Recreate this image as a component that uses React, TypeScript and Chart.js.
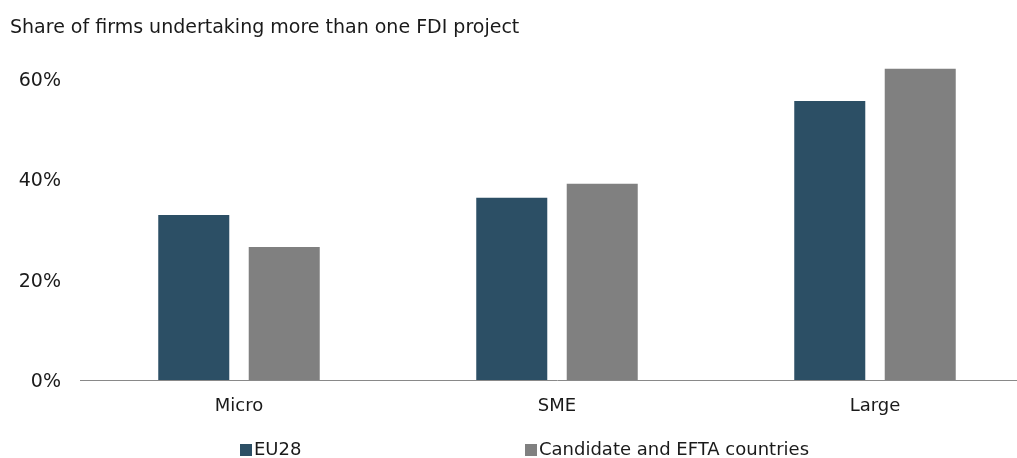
import React, { useEffect, useRef } from "react";
import { Chart, registerables } from "chart.js";

Chart.register(...registerables);

const categories = ["Micro", "SME", "Large"];
const seriesNames = ["EU28", "Candidate and EFTA countries"];
const eu28Values = [32.9, 36.3, 55.6];
const candidateValues = [26.5, 39.1, 62.0];
const yTickValues = [0, 20, 40, 60];
const titleText = "Share of firms undertaking more than one FDI project";

const FONT = "'DejaVu Sans', Verdana, sans-serif";
const TEXT = "#1a1a1a";
const COLORS = ["#2c4f65", "#808080"];
const LEGEND_X = [240, 525];

const legendPlugin = {
  id: "customLegend",
  afterDraw(chart: any) {
    const ctx = chart.ctx;
    ctx.save();
    ctx.font = `18px ${FONT}`;
    ctx.textBaseline = "middle";
    ctx.textAlign = "left";
    const y = 450;
    chart.data.datasets.forEach((ds: any, i: number) => {
      const x = LEGEND_X[i];
      ctx.fillStyle = ds.backgroundColor;
      ctx.fillRect(x, y - 6, 12, 12);
      ctx.fillStyle = TEXT;
      ctx.fillText(ds.label, x + 14, y);
    });
    ctx.restore();
  },
};

export default function App() {
  const ref = useRef<HTMLCanvasElement | null>(null);
  useEffect(() => {
    if (!ref.current) return;
    const chart = new Chart(ref.current, {
      type: "bar",
      data: {
        labels: categories,
        datasets: [
          { label: seriesNames[0], data: eu28Values, backgroundColor: COLORS[0] },
          { label: seriesNames[1], data: candidateValues, backgroundColor: COLORS[1] },
        ],
      },
      options: {
        responsive: false,
        animation: false,
        devicePixelRatio: 1,
        layout: { padding: { left: 10, right: 6, top: 0, bottom: 40 } },
        datasets: {
          bar: { categoryPercentage: 0.569, barPercentage: 0.785 },
        },
        plugins: {
          legend: { display: false },
          tooltip: { enabled: false },
          title: {
            display: true,
            text: titleText,
            align: "start",
            color: TEXT,
            font: { family: FONT, size: 19, weight: "normal" },
            padding: { top: 17, bottom: 19 },
          },
        },
        scales: {
          x: {
            grid: { display: false, drawTicks: false },
            border: { display: true, color: "#898989", width: 1 },
            ticks: { color: TEXT, font: { family: FONT, size: 18 }, padding: 16 },
            afterFit(scale: any) {
              scale.height = 38;
            },
          },
          y: {
            min: 0,
            max: 64,
            grid: { display: false, drawTicks: false },
            border: { display: false },
            ticks: {
              color: TEXT,
              font: { family: FONT, size: 19 },
              padding: 19,
              labelOffset: 2,
              callback: (v: any) => `${v}%`,
            },
            afterBuildTicks(scale: any) {
              scale.ticks = yTickValues.map((v) => ({ value: v }));
            },
            afterFit(scale: any) {
              scale.width = 70;
            },
          },
        },
      },
      plugins: [legendPlugin],
    });
    return () => chart.destroy();
  }, []);
  return (
    <div style={{ position: "fixed", left: 0, top: 0, width: 1017, height: 458, overflow: "hidden", background: "#fff" }}>
      <canvas ref={ref} width={1040} height={458} style={{ display: "block" }} />
    </div>
  );
}
